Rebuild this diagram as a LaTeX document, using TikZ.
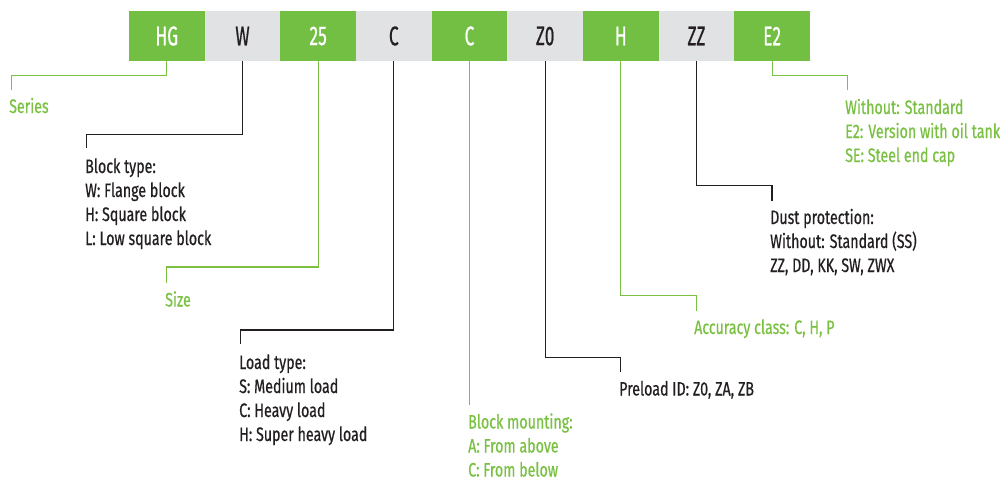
\documentclass[tikz,border=0pt]{standalone}
\usepackage{fontspec}
\newfontfamily\lblfont[FakeStretch=0.73,FakeBold=0.6]{Fira Sans}
\newfontfamily\boxfont[FakeStretch=0.64,FakeBold=0.6]{Fira Sans}
\definecolor{hgreen}{HTML}{72BF44}
\definecolor{tgreen}{HTML}{7AC143}
\definecolor{hgrey}{HTML}{E1E2E4}
\definecolor{hdark}{HTML}{231F20}
\tikzset{
  codebox/.style={minimum width=75.67pt, minimum height=50pt, inner sep=0pt, outer sep=0pt, font=\boxfont\fontsize{27}{27}\selectfont},
  gbox/.style={codebox, fill=hgreen, text=white},
  ybox/.style={codebox, fill=hgrey, text=hdark},
  desc/.style={anchor=base west, inner sep=0pt, align=left, font=\lblfont\fontsize{19.5}{24}\selectfont},
  gdesc/.style={desc, text=tgreen},
  ddesc/.style={desc, text=hdark},
  gline/.style={draw=tgreen, line width=1.3pt},
  dline/.style={draw=hdark, line width=1.3pt},
}
\begin{document}
\begin{tikzpicture}[x=1pt,y=-1pt]
\useasboundingbox (0,0) rectangle (1003,477);
% boxes
\node[gbox] (b1) at (166.83,36) {HG};
\node[ybox] (b2) at (242.50,36) {W};
\node[gbox] (b3) at (318.17,36) {25};
\node[ybox] (b4) at (393.83,36) {C};
\node[gbox] (b5) at (469.50,36) {C};
\node[ybox] (b6) at (545.17,36) {Z0};
\node[gbox] (b7) at (620.83,36) {H};
\node[ybox] (b8) at (696.50,36) {ZZ};
\node[gbox] (b9) at (772.17,36) {E2};
% descriptions (anchor = baseline of the last line)
\node[gdesc] (t1) at (9,113) {Series};
\node[ddesc] (t2) at (85,245) {Block type:\\W: Flange block\\H: Square block\\L: Low square block};
\node[gdesc] (t3) at (165,306.5) {Size};
\node[ddesc] (t4) at (239,441) {Load type:\\S: Medium load\\C: Heavy load\\H: Super heavy load};
\node[gdesc] (t5) at (468,476.5) {Block mounting:\\A: From above\\C: From below};
\node[ddesc] (t6) at (619,395.5) {Preload ID: Z0, ZA, ZB};
\node[gdesc] (t7) at (694,334) {Accuracy class: C, H, P};
\node[ddesc] (t8) at (770,272) {Dust protection:\\Without: Standard (SS)\\ZZ, DD, KK, SW, ZWX};
\node[gdesc] (t9) at (845,162) {Without: Standard\\E2: Version with oil tank\\SE: Steel end cap};
% bend points and ends
\coordinate (k1) at (11.5,75.3);   \coordinate (e1) at (11.5,90);
\coordinate (k2) at (86.3,134.3);  \coordinate (e2) at (86.3,148.3);
\coordinate (k3) at (166.3,267);   \coordinate (e3) at (166.3,282.7);
\coordinate (k4) at (240.7,330);   \coordinate (e4) at (240.7,344.3);
\coordinate (e5) at (469.5,405.3);
\coordinate (k6) at (620.7,357.3); \coordinate (e6) at (620.7,371.7);
\coordinate (k7) at (696.5,295.3); \coordinate (e7) at (696.5,310.7);
\coordinate (k8) at (771.9,185.3); \coordinate (e8) at (771.9,200.7);
\coordinate (k9) at (847.7,75.3);  \coordinate (e9) at (847.7,90);
% connectors
\draw[gline] (b1.south) |- (k1) -- (e1);
\draw[dline] (b2.south) |- (k2) -- (e2);
\draw[gline] (b3.south) |- (k3) -- (e3);
\draw[dline] (b4.south) |- (k4) -- (e4);
\draw[gline] (b5.south) -- (e5);
\draw[dline] (b6.south) |- (k6) -- (e6);
\draw[gline] (b7.south) |- (k7) -- (e7);
\draw[dline] (b8.south) |- (k8) -- (e8);
\draw[gline] (b9.south) |- (k9) -- (e9);
\end{tikzpicture}
\end{document}
